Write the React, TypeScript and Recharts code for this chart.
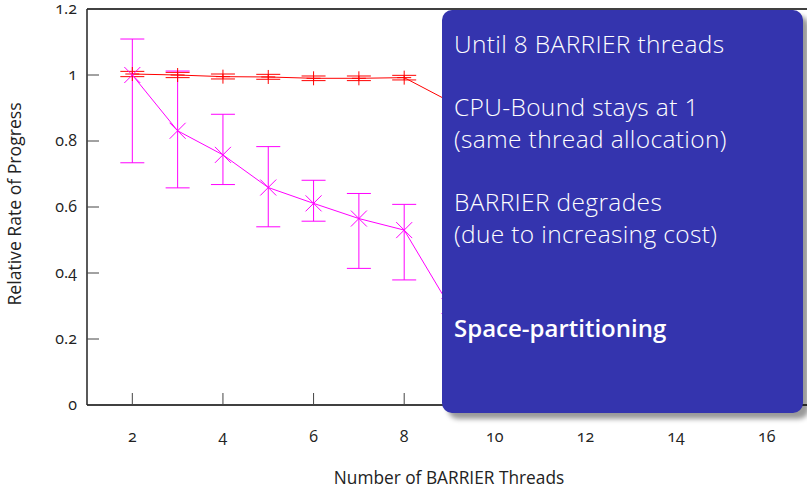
import React from 'react';
import { ComposedChart, Line, XAxis, YAxis, ErrorBar, ReferenceLine } from 'recharts';

// Number of BARRIER threads
const threads = [2, 3, 4, 5, 6, 7, 8, 9];

// CPU-Bound relative rate with its spread
const cpuBound = [1.003, 1.0, 0.995, 0.994, 0.99, 0.99, 0.992, 0.92];
const cpuBoundLow = [0.995, 0.992, 0.988, 0.987, 0.983, 0.983, 0.985, null];
const cpuBoundHigh = [1.011, 1.008, 1.003, 1.002, 0.997, 0.997, 0.999, null];

// BARRIER relative rate with its spread
const barrier = [1.0, 0.831, 0.758, 0.659, 0.611, 0.565, 0.53, 0.3];
const barrierLow = [0.734, 0.658, 0.668, 0.54, 0.557, 0.414, 0.379, null];
const barrierHigh = [1.109, 1.012, 0.881, 0.783, 0.681, 0.641, 0.608, null];

const xTicks = [2, 4, 6, 8, 10, 12, 14, 16];
const yTicks = [0, 0.2, 0.4, 0.6, 0.8, 1, 1.2];
const yTickLabels = ['0', '0.2', '0.4', '0.6', '0.8', '1', '1.2'];

const noteLines = [
  'Until 8 BARRIER threads',
  '',
  'CPU-Bound stays at 1',
  '(same thread allocation)',
  '',
  'BARRIER degrades',
  '(due to increasing cost)',
  '',
  '',
];
const noteEmphasis = 'Space-partitioning';

const FONT = '"Open Sans", "Noto Sans", sans-serif';

const delta = (v: number, lo: number | null, hi: number | null) =>
  lo == null || hi == null ? null : [v - lo, hi - v];

const data = threads.map((x, i) => ({
  x,
  cpu: cpuBound[i],
  cpuErr: delta(cpuBound[i], cpuBoundLow[i], cpuBoundHigh[i]),
  barrier: barrier[i],
  barrierErr: delta(barrier[i], barrierLow[i], barrierHigh[i]),
}));

const PlusDot = (props: any) => {
  const { cx, cy, index } = props;
  if (cx == null || cy == null) return <g key={`p${index}`} />;
  const s = 7;
  return (
    <g key={`p${index}`}>
      <line x1={cx - s} x2={cx + s} y1={cy} y2={cy} stroke="#ff0000" strokeWidth={1} />
      <line x1={cx} x2={cx} y1={cy - s} y2={cy + s} stroke="#ff0000" strokeWidth={1} />
    </g>
  );
};

const CrossDot = (props: any) => {
  const { cx, cy, index } = props;
  if (cx == null || cy == null) return <g key={`c${index}`} />;
  const s = 8;
  return (
    <g key={`c${index}`}>
      <line x1={cx - s} x2={cx + s} y1={cy - s} y2={cy + s} stroke="#ff00ff" strokeWidth={1} />
      <line x1={cx - s} x2={cx + s} y1={cy + s} y2={cy - s} stroke="#ff00ff" strokeWidth={1} />
    </g>
  );
};

const YTick = (props: any) => {
  const { x, y, payload } = props;
  const idx = yTicks.indexOf(payload.value);
  return (
    <g>
      <line x1={x} x2={x + 12} y1={y} y2={y} stroke="#444" strokeWidth={1} />
      <text
        x={x - 10}
        y={y}
        dy={5}
        textAnchor="end"
        fontFamily={FONT}
        fontSize={16}
        fill="#222"
        style={{ fontVariantNumeric: 'oldstyle-nums' }}
      >
        {idx >= 0 ? yTickLabels[idx] : payload.value}
      </text>
    </g>
  );
};

const XTick = (props: any) => {
  const { x, y, payload } = props;
  return (
    <g>
      <line x1={x} x2={x} y1={y} y2={y - 12} stroke="#444" strokeWidth={1} />
      <text
        x={x}
        y={y + 37}
        textAnchor="middle"
        fontFamily={FONT}
        fontSize={16}
        fill="#222"
        style={{ fontVariantNumeric: 'oldstyle-nums' }}
      >
        {payload.value}
      </text>
    </g>
  );
};

export default function App() {
  return (
    <div
      style={{
        position: 'absolute',
        left: 0,
        top: 0,
        width: 807,
        height: 488,
        overflow: 'hidden',
        background: '#fff',
      }}
    >
      <ComposedChart
        width={830}
        height={488}
        data={data}
        margin={{ top: 9, right: 18, bottom: 0, left: 0 }}
      >
        <XAxis
          dataKey="x"
          type="number"
          domain={[1, 17]}
          ticks={xTicks}
          allowDataOverflow
          height={83}
          tickSize={0}
          tickMargin={0}
          tickLine={false}
          tick={<XTick />}
          stroke="#000"
          strokeWidth={1.3}
          label={{
            content: () => (
              <text x={449} y={484} textAnchor="middle" fontFamily={FONT} fontSize={17.3} fill="#222">
                Number of BARRIER Threads
              </text>
            ),
          }}
        />
        <YAxis
          type="number"
          domain={[0, 1.2]}
          ticks={yTicks}
          allowDataOverflow
          width={87}
          tickSize={0}
          tickMargin={0}
          tickLine={false}
          tick={<YTick />}
          stroke="#000"
          strokeWidth={1.3}
          label={{
            content: () => (
              <text
                x={21}
                y={204}
                textAnchor="middle"
                fontFamily={FONT}
                fontSize={17.6}
                fill="#222"
                transform="rotate(-90 21 204)"
              >
                Relative Rate of Progress
              </text>
            ),
          }}
        />
        <ReferenceLine y={1.2} stroke="#000" strokeWidth={1.3} />
        <Line
          dataKey="cpu"
          stroke="#ff0000"
          strokeWidth={1}
          dot={PlusDot}
          activeDot={false}
          isAnimationActive={false}
        >
          <ErrorBar dataKey="cpuErr" width={12} stroke="#ff0000" strokeWidth={1} direction="y" />
        </Line>
        <Line
          dataKey="barrier"
          stroke="#ff00ff"
          strokeWidth={1}
          dot={CrossDot}
          activeDot={false}
          isAnimationActive={false}
        >
          <ErrorBar dataKey="barrierErr" width={12} stroke="#ff00ff" strokeWidth={1} direction="y" />
        </Line>
      </ComposedChart>
      <div
        style={{
          position: 'absolute',
          left: 442,
          top: 10,
          width: 361,
          height: 403,
          boxSizing: 'border-box',
          background: '#3434ae',
          borderRadius: 10,
          boxShadow: '6px 6px 5px rgba(0,0,0,0.4)',
          color: '#fff',
          fontFamily: FONT,
          fontSize: 24.5,
          fontWeight: 300,
          letterSpacing: 0.35,
          lineHeight: '31.6px',
          padding: '18px 0 0 12px',
          whiteSpace: 'nowrap',
        }}
      >
        {noteLines.map((t, i) => (
          <div key={i} style={{ height: 31.6 }}>
            {t}
          </div>
        ))}
        <div style={{ height: 31.6, fontWeight: 600, letterSpacing: 0, fontSize: 24 }}>{noteEmphasis}</div>
      </div>
    </div>
  );
}
